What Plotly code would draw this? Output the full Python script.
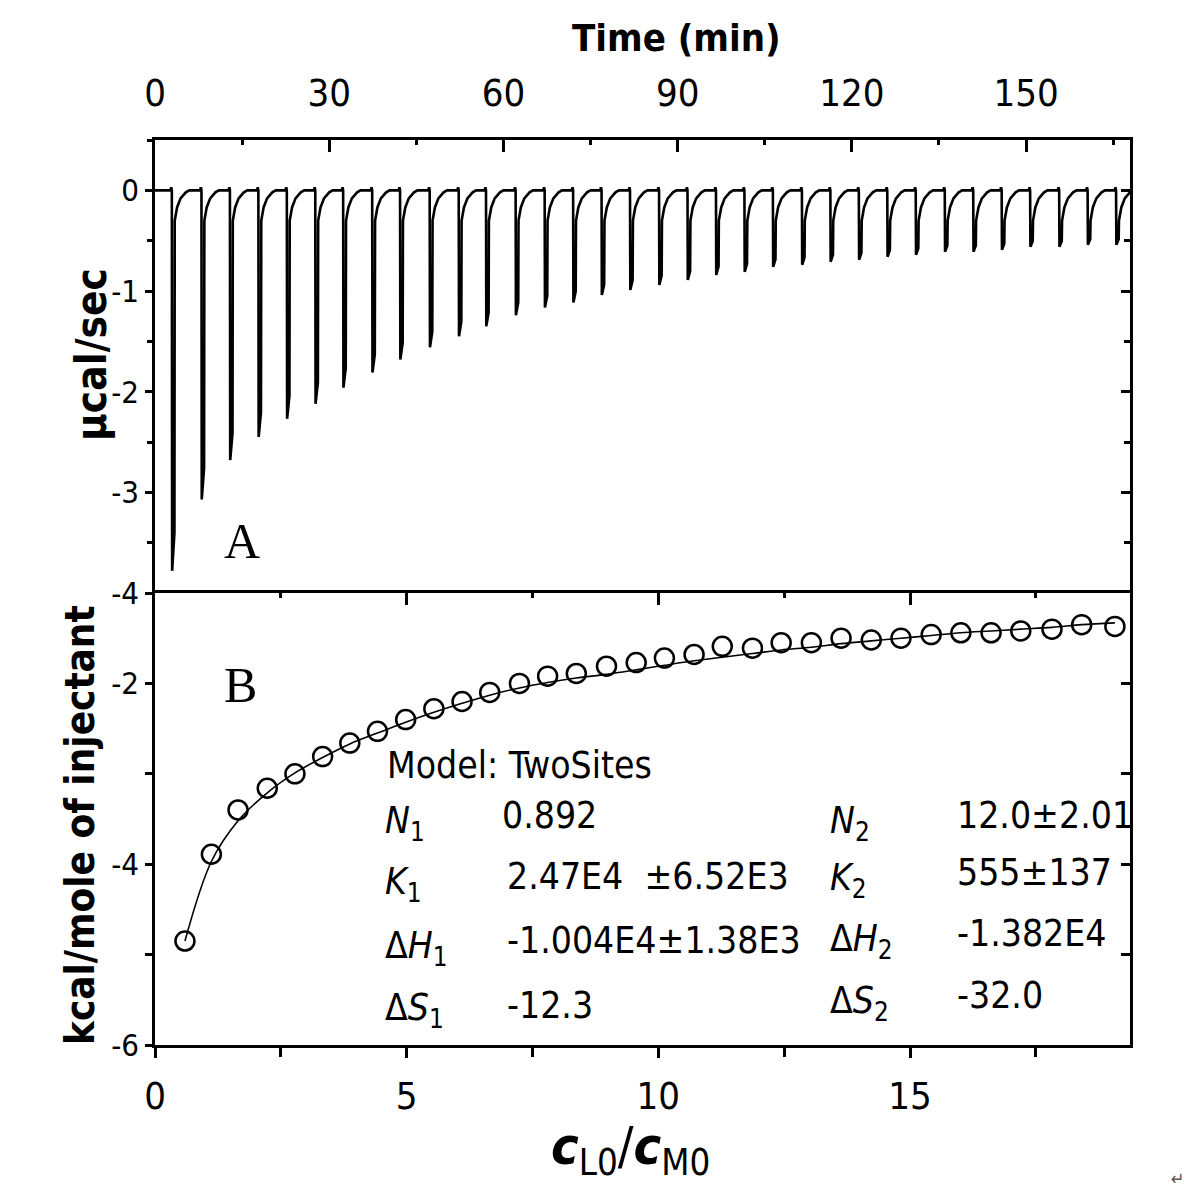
import plotly.graph_objects as go

# ---------------- data ----------------
# Panel A: injection times (min) and peak depths (µcal/sec)
inj_time = [2.9, 8.0, 12.9, 17.8, 22.7, 27.6, 32.4, 37.4, 42.2, 47.3,
            52.3, 57.0, 62.1, 67.1, 72.0, 76.9, 81.8, 86.8, 91.7, 96.6,
            101.5, 106.4, 111.4, 116.3, 121.2, 126.1, 131.0, 136.0, 140.9, 145.8,
            150.7, 155.7, 160.6, 165.5]
peak_depth = [3.78, 3.07, 2.68, 2.45, 2.27, 2.12, 1.96, 1.81, 1.68, 1.56,
              1.45, 1.35, 1.24, 1.165, 1.115, 1.04, 0.99, 0.94, 0.89, 0.84,
              0.81, 0.76, 0.74, 0.71, 0.69, 0.66, 0.64, 0.61, 0.61, 0.59,
              0.56, 0.56, 0.54, 0.54]
# shape of one injection peak: time offset, share of depth, offset level
profile_dt = [-0.25, -0.1, 0.0, 0.05, 0.45, 0.5, 0.9, 1.5, 2.4, 3.0]
profile_frac = [0, 0, 0, 1, 0.9, 0, 0, 0, 0, 0]
profile_lvl = [0, -0.03, 0, 0, 0, 0.3, 0.17, 0.08, 0.02, 0]

# Panel B: molar ratio, integrated heats, fitted curve
ratio = [0.595, 1.12, 1.65, 2.23, 2.78, 3.33, 3.87, 4.42, 4.98, 5.54,
         6.10, 6.65, 7.24, 7.80, 8.37, 8.97, 9.56, 10.12, 10.71, 11.27,
         11.87, 12.44, 13.04, 13.63, 14.23, 14.82, 15.42, 16.01, 16.61, 17.20,
         17.82, 18.41, 19.07]
heat = [-4.85, -3.89, -3.40, -3.16, -3.00, -2.81, -2.66, -2.53, -2.40, -2.28,
        -2.20, -2.10, -2.00, -1.92, -1.89, -1.81, -1.77, -1.72, -1.68, -1.59,
        -1.61, -1.55, -1.55, -1.50, -1.52, -1.50, -1.46, -1.44, -1.44, -1.42,
        -1.40, -1.35, -1.37]
fit = [-4.85, -3.97, -3.52, -3.21, -2.99, -2.82, -2.67, -2.55, -2.43, -2.32,
       -2.22, -2.13, -2.05, -1.99, -1.94, -1.90, -1.85, -1.80, -1.75, -1.71,
       -1.67, -1.63, -1.60, -1.56, -1.53, -1.50, -1.47, -1.44, -1.42, -1.40,
       -1.38, -1.35, -1.33]

time_ticks = [0, 30, 60, 90, 120, 150]
ratio_ticks = [0, 5, 10, 15]
top_y_ticks = [0, -1, -2, -3, -4]
top_y_text = ["0", "-1", "-2", "-3", "-4"]
bot_y_ticks = [-2, -4, -6]
bot_y_text = ["-2", "-4", "-6"]

# ---------------- build thermogram trace ----------------
tx, ty = [0.0], [0.0]
for t0, d in zip(inj_time, peak_depth):
    for dt, fr, lv in zip(profile_dt, profile_frac, profile_lvl):
        tx.append(t0 + dt)
        ty.append(-(fr * d + lv))
tx.append(170.0)
ty.append(0.0)

# ---------------- layout geometry ----------------
# page body has an 8 px margin; the figure is sized so that it fills the window
OFF = 8
W, H = 1200 - 2 * OFF, 1203 - 2 * OFF
PL, PT, PR, PB = 155, 140, 1130, 1045        # plot frame in window pixels
PW, PH = PR - PL, PB - PT
L, T = PL - OFF, PT - OFF
R, B = W - L - PW, H - T - PH
split = (PB - 593) / PH


def px(x):
    return (x - PL) / PW


def py(y):
    return (PB - y) / PH


NARROW = "Liberation Sans Narrow, Arial Narrow, DejaVu Sans Condensed, Liberation Sans, sans-serif"
SERIF = "Liberation Serif, Times New Roman, serif"

fig = go.Figure()
fig.add_trace(go.Scatter(x=tx, y=ty, mode="lines", xaxis="x", yaxis="y",
                         line=dict(color="black", width=2.6), showlegend=False,
                         hoverinfo="skip"))
fig.add_trace(go.Scatter(x=ratio, y=fit, mode="lines", xaxis="x2", yaxis="y2",
                         line=dict(color="black", width=1.6, shape="spline"),
                         showlegend=False))
fig.add_trace(go.Scatter(x=ratio, y=heat, mode="markers", xaxis="x2", yaxis="y2",
                         marker=dict(symbol="circle-open", size=19, color="black",
                                     line=dict(width=2.5, color="black")),
                         showlegend=False))
# invisible helpers so the mirror-tick axes are drawn
fig.add_trace(go.Scatter(x=[1], y=[-1], mode="markers", xaxis="x", yaxis="y3",
                         marker=dict(opacity=0), showlegend=False, hoverinfo="skip"))
fig.add_trace(go.Scatter(x=[1], y=[-3], mode="markers", xaxis="x3", yaxis="y2",
                         marker=dict(opacity=0), showlegend=False, hoverinfo="skip"))
fig.add_trace(go.Scatter(x=[1], y=[-3], mode="markers", xaxis="x2", yaxis="y4",
                         marker=dict(opacity=0), showlegend=False, hoverinfo="skip"))

line_kw = dict(showline=True, linecolor="black", linewidth=2.5, showgrid=False,
               zeroline=False, tickcolor="black", tickwidth=2.5)
tick_font = dict(family=NARROW, size=38, color="black")
side_font = dict(family=NARROW, size=31, color="black")

x_range_time = [0, 167.9]
x_range_ratio = [0, 19.37]
y_range_top = [-4, 0.5]
y_range_bot = [-6, -1]


def minor(dt, kind, ln):
    return dict(tickmode="linear", tick0=0, dtick=dt, ticks=kind, ticklen=ln,
                tickwidth=2.5, tickcolor="black", showgrid=False)


fig.update_layout(
    width=W, height=H,
    margin=dict(l=L, r=R, t=T, b=B, pad=0),
    paper_bgcolor="white", plot_bgcolor="white",
    xaxis=dict(domain=[0, 1], anchor="y", side="top", range=x_range_time,
               tickmode="array", tickvals=time_ticks, ticks="inside", ticklen=12,
               minor=minor(15, "inside", 5),
               mirror=False, tickfont=tick_font, ticklabelstandoff=16, **line_kw),
    yaxis=dict(domain=[split, 1], anchor="x", range=y_range_top,
               tickmode="array", tickvals=top_y_ticks, ticktext=top_y_text,
               ticks="outside", ticklen=7, minor=minor(0.5, "outside", 5),
               mirror=True, tickfont=side_font, ticklabelstandoff=0, **line_kw),
    yaxis3=dict(overlaying="y", anchor="x", side="right", range=y_range_top,
                tick0=0, dtick=1, ticks="inside", ticklen=9,
                minor=minor(0.5, "inside", 6),
                showticklabels=False, showline=False, showgrid=False,
                zeroline=False, tickcolor="black", tickwidth=2.5),
    xaxis2=dict(domain=[0, 1], anchor="y2", side="bottom", range=x_range_ratio,
                tickmode="array", tickvals=ratio_ticks, ticks="outside", ticklen=10,
                minor=minor(2.5, "outside", 9),
                mirror=True, tickfont=tick_font, ticklabelstandoff=6, **line_kw),
    xaxis3=dict(overlaying="x2", anchor="y2", side="top", range=x_range_ratio,
                tick0=0, dtick=5, ticks="inside", ticklen=12,
                minor=minor(2.5, "inside", 5),
                showticklabels=False, showline=False, showgrid=False,
                zeroline=False, tickcolor="black", tickwidth=2.5),
    yaxis2=dict(domain=[0, split], anchor="x2", range=y_range_bot,
                tickmode="array", tickvals=bot_y_ticks, ticktext=bot_y_text,
                ticks="outside", ticklen=7, minor=minor(1, "outside", 7),
                mirror=True, tickfont=side_font, ticklabelstandoff=0, **line_kw),
    yaxis4=dict(overlaying="y2", anchor="x2", side="right", range=y_range_bot,
                tick0=0, dtick=2, ticks="inside", ticklen=9,
                minor=minor(1, "inside", 9),
                showticklabels=False, showline=False, showgrid=False,
                zeroline=False, tickcolor="black", tickwidth=2.5),
)

ann = []


def add(text, x, y, size, family=NARROW, xanchor="left", yanchor="middle", angle=0,
        color="black"):
    ann.append(dict(text=text, x=px(x), y=py(y), xref="paper", yref="paper",
                    showarrow=False, xanchor=xanchor, yanchor=yanchor,
                    textangle=angle, font=dict(family=family, size=size, color=color)))


add("<b>Time (min)</b>", 676, 38, 38, xanchor="center")
add("<b>µcal/sec</b>", 92, 355, 42, xanchor="center", angle=-90)
add("<b>kcal/mole of injectant</b>", 80, 825, 40, xanchor="center", angle=-90)
add("<b><i>c</i></b><sub>L0</sub>/<b><i>c</i></b><sub>M0</sub>", 630, 1150, 52, xanchor="center")
add("A", 242, 541, 50, family=SERIF, xanchor="center")
add("B", 240, 685, 50, family=SERIF, xanchor="center")
add("↵", 1178, 1178, 18, xanchor="center", color="#555555")

fs = 37
add("Model: TwoSites", 385, 765, fs)
rows = [
    ("<i>N</i><sub>1</sub>", "0.892", "<i>N</i><sub>2</sub>", "12.0±2.01", 815, 815, 815, 815),
    ("<i>K</i><sub>1</sub>", "2.47E4  ±6.52E3", "<i>K</i><sub>2</sub>", "555±137", 876, 876, 872, 872),
    ("Δ<i>H</i><sub>1</sub>", "-1.004E4±1.38E3", "Δ<i>H</i><sub>2</sub>", "-1.382E4", 940, 940, 933, 933),
    ("Δ<i>S</i><sub>1</sub>", "-12.3", "Δ<i>S</i><sub>2</sub>", "-32.0", 1002, 1005, 995, 995),
]
for lab1, val1, lab2, val2, yl1, yv1, yl2, yv2 in rows:
    add(lab1, 383, yl1 + 8, fs)
    add(val1, 500 if "0.892" in val1 else 505, yv1, fs)
    add(lab2, 828, yl2 + 8, fs)
    add(val2, 955, yv2, fs)
fig.update_layout(annotations=ann)

fig.write_html("out.html")
